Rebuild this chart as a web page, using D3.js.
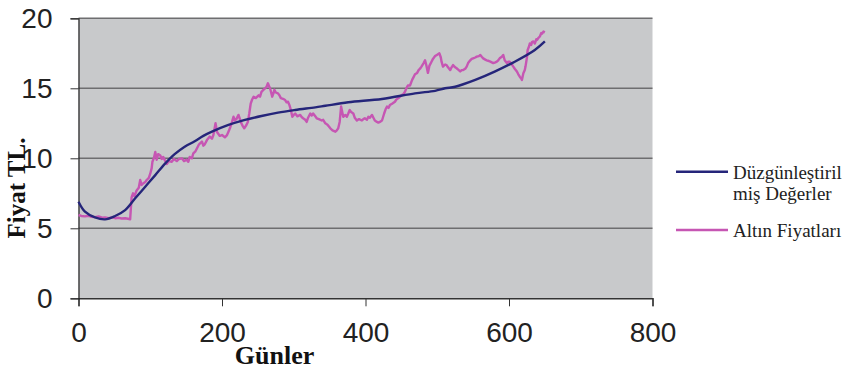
<!DOCTYPE html>
<html><head><meta charset="utf-8">
<script src="https://cdn.jsdelivr.net/npm/d3@7"></script>
<style>body{margin:0;background:#fff}svg{display:block}</style>
</head><body>
<svg id="c" width="847" height="369"></svg>
<script>
// ---- data ----
const xTicks = [0, 200, 400, 600, 800];
const yTicks = [0, 5, 10, 15, 20];
const seriesNames = ["Düzgünleştirilmiş Değerler", "Altın Fiyatları"];
const priceDays = [0,4,9,14,18,23,28,33,37,42,47,51,56,60,65,69,72,74,76,78,81,84,86,88,90,93,95,98,100,102,103,105,107,109,111,114,116,118,121,123,126,130,133,137,140,144,147,151,153,155,158,160,163,165,168,172,174,176,179,183,186,188,191,193,194,197,200,204,207,209,211,214,216,218,220,223,225,227,229,231,234,236,238,240,242,244,247,251,253,255,258,260,262,264,266,267,270,272,273,275,278,280,282,285,288,290,292,294,296,298,300,302,305,309,311,313,316,318,320,323,325,327,330,332,335,339,341,344,347,351,354,358,360,362,364,366,368,369,372,374,376,378,380,383,385,388,391,395,397,399,402,404,406,409,411,413,416,418,420,423,426,428,430,432,434,437,441,443,446,448,450,453,455,457,459,462,465,467,469,472,474,476,478,481,483,485,487,489,492,494,497,500,503,505,506,508,511,513,515,518,520,522,525,527,530,532,534,536,539,541,543,546,548,550,553,555,558,560,562,564,567,569,572,574,576,578,581,583,585,587,590,592,594,597,599,601,604,606,608,611,613,615,617,618,620,622,623,625,626,628,629,631,632,634,636,638,639,641,643,645,646,648,650];
const priceVals = [5.95,5.88,5.85,5.9,5.82,5.8,5.85,5.76,5.78,5.72,5.78,5.72,5.75,5.7,5.72,5.68,5.65,7.2,7.5,7.3,7.7,7.9,8.45,8.1,8.2,8.3,8.45,8.6,8.9,9.3,9.75,10.0,10.45,9.9,10.3,10.2,9.95,10.1,9.8,9.6,9.8,9.75,9.95,9.8,9.95,10.0,9.8,9.9,9.75,10.1,10.0,10.35,10.5,10.7,11.0,11.2,10.9,11.0,11.3,11.55,11.4,11.66,12.5,11.9,11.8,11.6,11.66,11.5,11.66,11.9,12.14,12.6,12.97,12.7,12.8,13.1,12.8,12.5,12.3,12.14,12.38,12.6,13.2,13.9,14.2,14.4,14.3,14.5,14.4,14.75,14.9,15.0,15.1,15.36,15.1,15.0,14.4,14.7,14.9,14.7,14.64,14.5,14.3,14.25,14.16,14.0,14.04,13.8,13.45,12.97,13.1,13.2,13.0,13.1,12.95,12.86,12.75,12.6,12.9,13.2,13.05,13.2,13.0,12.86,12.8,12.7,12.75,12.5,12.4,12.14,12.0,11.9,12.0,12.14,12.6,13.7,13.2,12.97,13.1,12.97,13.2,13.45,13.3,13.2,12.9,12.7,12.8,12.7,12.8,12.86,12.75,12.97,12.9,13.1,12.9,12.7,12.6,12.55,12.6,12.7,13.2,13.5,13.7,13.6,13.8,13.9,14.04,14.2,14.3,14.4,14.5,14.6,14.75,15.0,15.2,15.2,15.6,15.8,16.0,16.1,16.3,16.4,16.55,16.8,17.0,16.6,16.1,16.6,16.9,17.1,17.3,17.4,17.5,17.2,16.9,16.55,16.7,16.66,16.5,16.3,16.5,16.66,16.5,16.43,16.3,16.2,16.3,16.3,16.4,16.55,16.8,17.0,17.1,17.14,17.2,17.26,17.3,17.38,17.25,17.14,17.05,17.0,16.95,16.9,16.85,16.8,16.85,16.9,17.0,17.14,17.25,17.38,17.0,16.8,16.9,16.9,16.7,16.55,16.4,16.2,16.0,15.83,15.7,15.6,16.07,16.3,16.55,17.2,17.74,18.0,18.2,18.1,18.3,18.35,18.2,18.5,18.45,18.6,18.7,18.95,18.9,19.05,19.0];
const smoothDays = [0,9,23,37,51,65,79,93,107,121,134,148,162,174,186,209,232,255,278,302,330,344,376,423,469,497,511,525,553,580,608,636,650];
const smoothVals = [6.9,6.19,5.78,5.64,5.88,6.3,7.14,7.97,8.8,9.64,10.3,10.83,11.22,11.6,11.9,12.38,12.74,13.02,13.26,13.45,13.64,13.75,14.0,14.24,14.64,14.82,15.0,15.11,15.6,16.19,16.9,17.74,18.35];

// ---- layout ----
const svg = d3.select("#c");
const x = d3.scaleLinear().domain([0, 800]).range([78.5, 652.5]);
const y = d3.scaleLinear().domain([0, 20]).range([298.3, 18.3]);

svg.append("rect").attr("x", x(0)).attr("y", y(20))
  .attr("width", x(800) - x(0)).attr("height", y(0) - y(20)).attr("fill", "#c8c9cb");

// gridlines
svg.append("g").selectAll("line").data(yTicks.filter(d => d > 0)).join("line")
  .attr("x1", x(0)).attr("x2", x(800)).attr("y1", d => y(d)).attr("y2", d => y(d))
  .attr("stroke", "#6e6e70").attr("stroke-width", 1.6);

// axes
const xAxis = d3.axisBottom(x).tickValues(xTicks).tickSize(8).tickPadding(16).tickFormat(d3.format("d"));
const gx = svg.append("g").attr("transform", `translate(0,${y(0)})`).call(xAxis);
gx.select(".domain").attr("stroke", "#333").attr("stroke-width", 1.4);
gx.selectAll(".tick line").attr("stroke", "#333");
gx.selectAll("text").attr("font-family", "Liberation Sans, Arial, sans-serif").attr("font-size", 28).attr("fill", "#222");

const yAxis = d3.axisLeft(y).tickValues(yTicks).tickSize(8).tickPadding(18).tickFormat(d3.format("d"));
const gy = svg.append("g").attr("transform", `translate(${x(0)},0)`).call(yAxis);
gy.select(".domain").attr("stroke", "#222").attr("stroke-width", 1.2);
gy.selectAll(".tick line").attr("stroke", "#333");
gy.selectAll("text").attr("font-family", "Liberation Sans, Arial, sans-serif").attr("font-size", 28).attr("fill", "#222");

// lines
const line = d3.line().x(d => x(d[0])).y(d => y(d[1]));
const price = priceDays.map((d, i) => [d, priceVals[i]]);
const smooth = smoothDays.map((d, i) => [d, smoothVals[i]]);
svg.append("path").datum(price).attr("d", line).attr("fill", "none")
  .attr("stroke", "#c656b3").attr("stroke-width", 2.4).attr("stroke-linejoin", "round");
svg.append("path").datum(smooth).attr("d", line.curve(d3.curveCatmullRom)).attr("fill", "none")
  .attr("stroke", "#25257a").attr("stroke-width", 2.4);

// titles
svg.append("text").attr("x", 274.5).attr("y", 364).attr("text-anchor", "middle")
  .attr("font-family", "Liberation Serif, Times New Roman, serif").attr("font-weight", "bold")
  .attr("font-size", 26).attr("fill", "#111").text("Günler");
svg.append("text").attr("transform", "translate(25,188) rotate(-90)").attr("text-anchor", "middle")
  .attr("font-family", "Liberation Serif, Times New Roman, serif").attr("font-weight", "bold")
  .attr("font-size", 25).attr("fill", "#111").text("Fiyat TL.");

// legend
const lg = svg.append("g").attr("font-family", "Liberation Serif, Times New Roman, serif").attr("font-size", 19).attr("fill", "#222");
lg.append("line").attr("x1", 676).attr("x2", 728).attr("y1", 171.7).attr("y2", 171.7).attr("stroke", "#25257a").attr("stroke-width", 2.4);
lg.append("text").attr("x", 733).attr("y", 179).text("Düzgünleştiril");
lg.append("text").attr("x", 733).attr("y", 200).text("miş Değerler");
lg.append("line").attr("x1", 676).attr("x2", 728).attr("y1", 230).attr("y2", 230).attr("stroke", "#c656b3").attr("stroke-width", 2.4);
lg.append("text").attr("x", 733).attr("y", 237).text("Altın Fiyatları");
</script>
</body></html>
